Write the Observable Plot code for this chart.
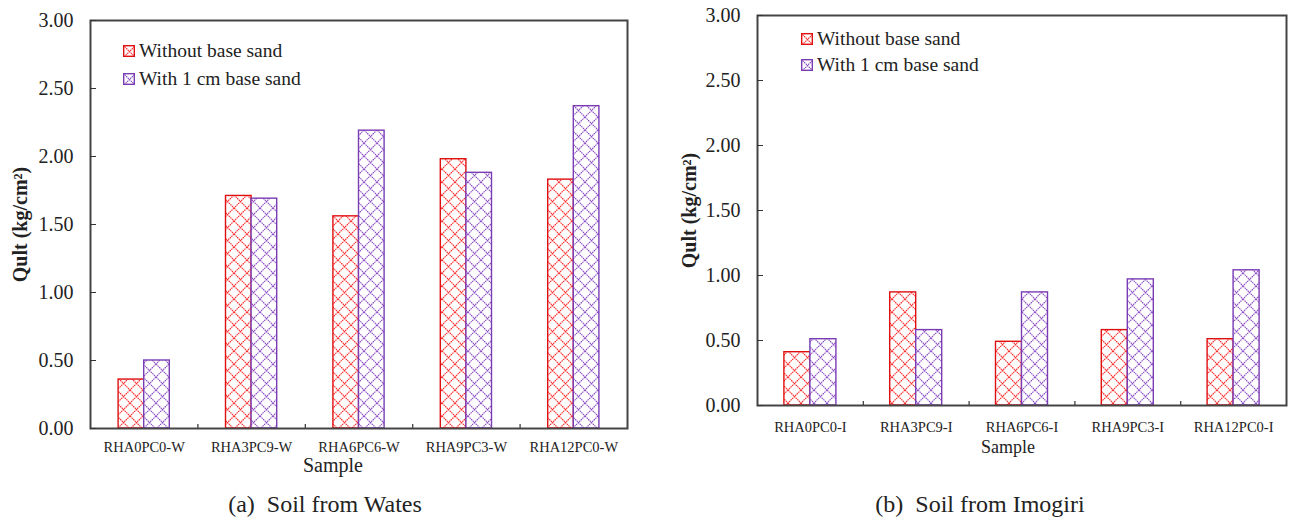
<!DOCTYPE html>
<html>
<head>
<meta charset="utf-8">
<script src="https://cdn.jsdelivr.net/npm/d3@7"></script>
<script src="https://cdn.jsdelivr.net/npm/@observablehq/plot@0.6"></script>
<style>
  html, body { margin: 0; padding: 0; background: #fff; }
  body { width: 1289px; height: 519px; position: relative; overflow: hidden;
         font-family: "Liberation Serif", "Times New Roman", serif; color: #222; }
  .abs { position: absolute; white-space: pre; }
  .legrow { position: absolute; display: flex; align-items: center; height: 24px; font-size: 19.5px; }
  .legrow svg { margin-right: 4px; }
  g[aria-label="y-axis label"] text { font-weight: bold; }
</style>
</head>
<body>
<svg width="0" height="0" style="position:absolute">
  <defs>
    <pattern id="hatchRed" patternUnits="userSpaceOnUse" width="13" height="13">
      <rect width="13" height="13" fill="#fff"/>
      <path d="M0,0L13,13M13,0L0,13" stroke="#ff2a2a" stroke-width="1.1" stroke-dasharray="1.6,0.6"/>
    </pattern>
    <pattern id="hatchPurple" patternUnits="userSpaceOnUse" width="13" height="13">
      <rect width="13" height="13" fill="#fff"/>
      <path d="M0,0L13,13M13,0L0,13" stroke="#8a4cc4" stroke-width="1.1" stroke-dasharray="1.6,0.6"/>
    </pattern>
  </defs>
</svg>
<div id="left" class="abs" style="left:0;top:0"></div>
<div id="right" class="abs" style="left:645px;top:0"></div>
<script>
// ---- data ----
const catsWates = ["RHA0PC0-W", "RHA3PC9-W", "RHA6PC6-W", "RHA9PC3-W", "RHA12PC0-W"];
const catsImogiri = ["RHA0PC0-I", "RHA3PC9-I", "RHA6PC6-I", "RHA9PC3-I", "RHA12PC0-I"];
const seriesNames = ["Without base sand", "With 1 cm base sand"];
const watesWithout = [0.36, 1.71, 1.56, 1.98, 1.83];
const watesWith = [0.50, 1.69, 2.19, 1.88, 2.37];
const imogiriWithout = [0.41, 0.87, 0.49, 0.58, 0.51];
const imogiriWith = [0.51, 0.58, 0.87, 0.97, 1.04];
const yTicks = [0, 0.5, 1, 1.5, 2, 2.5, 3];
const yLabel = "Qult (kg/cm²)";
const xLabel = "Sample";
const captions = ["(a)  Soil from Wates", "(b)  Soil from Imogiri"];

const seriesFill = ["url(#hatchRed)", "url(#hatchPurple)"];
const seriesStroke = ["#e01010", "#7a3cb4"];
const FAM = "'Liberation Serif', 'Times New Roman', serif";

function makeChart(cfg) {
  const {cats, without, withs, width, height, ml, mr, mt, mb, barW, xPad, yLabOff, yFont} = cfg;
  const step = (width - ml - mr) / cats.length;
  const inner = step / 2 - barW;
  const pxPerUnit = (height - mt - mb) / 3;
  const rowsA = cats.map((c, i) => ({cat: c, v: without[i]}));
  const rowsB = cats.map((c, i) => ({cat: c, v: withs[i]}));
  return Plot.plot({
    width, height,
    marginLeft: ml, marginRight: mr, marginTop: mt, marginBottom: mb,
    style: {fontFamily: FAM, color: "#222", background: "transparent", overflow: "visible"},
    x: {domain: cats, padding: 0, round: false},
    y: {domain: [0, 3]},
    marks: [
      Plot.barY(rowsA, {x: "cat", y: "v", fill: seriesFill[0], stroke: seriesStroke[0], strokeWidth: 1.4,
        insetLeft: inner, insetRight: step / 2}),
      Plot.barY(rowsB, {x: "cat", y: "v", fill: seriesFill[1], stroke: seriesStroke[1], strokeWidth: 1.4,
        insetLeft: step / 2, insetRight: inner}),
      Plot.ruleX(cats.slice(1), {x: d => d, y1: 0, y2: 4 / pxPerUnit, dx: -step / 2, stroke: "#333", strokeWidth: 1.2}),
      Plot.frame({stroke: "#444", strokeWidth: 2}),
      Plot.axisY({ticks: yTicks, tickFormat: d3.format(".2f"), tickSize: -6, tickPadding: 23, fontSize: yFont,
        label: yLabel, labelAnchor: "center", labelOffset: yLabOff, labelArrow: "none", stroke: "#333"}),
      Plot.axisX({tickSize: 0, tickPadding: xPad, fontSize: 14.5, label: null})
    ]
  });
}

document.getElementById("left").append(makeChart({
  cats: catsWates, without: watesWithout, withs: watesWith,
  width: 645, height: 480, ml: 90, mr: 18, mt: 20, mb: 52, barW: 25.6, xPad: 13, yLabOff: 78, yFont: 20
}));
document.getElementById("right").append(makeChart({
  cats: catsImogiri, without: imogiriWithout, withs: imogiriWith,
  width: 644, height: 480, ml: 112, mr: 3, mt: 15, mb: 75, barW: 26, xPad: 16, yLabOff: 76, yFont: 20
}));

// legends
function legend(left, tops) {
  seriesNames.forEach((name, i) => {
    const row = document.createElement("div");
    row.className = "legrow";
    row.style.left = left + "px";
    row.style.top = (tops[i] - 12) + "px";
    row.innerHTML = `<svg width="12" height="12"><rect x="0.7" y="0.7" width="10.6" height="10.6" fill="${seriesFill[i]}" stroke="${seriesStroke[i]}" stroke-width="1.4"/></svg><span>${name}</span>`;
    document.body.append(row);
  });
}
legend(123, [51, 79]);
legend(801, [39, 65]);

function label(text, cx, cy, size) {
  const d = document.createElement("div");
  d.className = "abs";
  d.textContent = text;
  d.style.fontSize = size + "px";
  d.style.lineHeight = "1";
  d.style.left = cx + "px";
  d.style.top = cy + "px";
  d.style.transform = "translate(-50%, -55%)";
  document.body.append(d);
}
label(xLabel, 333, 466, 20);
label(xLabel, 1008, 448, 18);
label(captions[0], 325, 505, 24);
label(captions[1], 980, 505, 24);
</script>
</body>
</html>
